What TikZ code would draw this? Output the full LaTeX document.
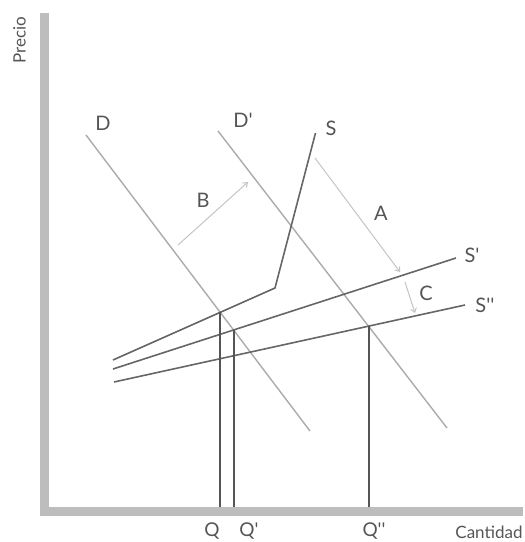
\documentclass[tikz,border=0pt]{standalone}
\usepackage{fontspec}
\setmainfont{Lato}
\usetikzlibrary{arrows.meta,calc}
\definecolor{axisgray}{HTML}{BDBDBD}
\definecolor{inkgray}{HTML}{555555}
\definecolor{demgray}{HTML}{ABABAB}
\definecolor{supgray}{HTML}{666666}
\definecolor{arrgray}{HTML}{C4C4C4}
\newcommand{\pr}{\textquotesingle}

\tikzset{
  demand/.style={draw=demgray, line width=1.4pt},
  supply/.style={draw=supgray, line width=1.6pt, line join=round},
  qline/.style={draw=inkgray, line width=2pt},
  shiftarr/.style={draw=arrgray, line width=1pt, -{Straight Barb[length=4pt,width=6pt]}},
  lbl/.style={text=inkgray, font=\fontsize{20}{20}\selectfont, inner sep=0pt},
  qlbl/.style={text=inkgray, font=\fontsize{19}{19}\selectfont, inner sep=0pt, anchor=north},
  axlbl/.style={text=inkgray, font=\fontsize{17}{17}\selectfont, inner sep=0pt}
}

\begin{document}
\begin{tikzpicture}[x=1pt, y=-1pt]
\useasboundingbox (0,0) rectangle (525,542);
\fill[axisgray] (40,13) rectangle (49,516);
\fill[axisgray] (40,507) rectangle (523,516);
\coordinate (base) at (0,507);

\coordinate (D0) at (86,135);
\coordinate (D1) at (310,431);
\coordinate (Dp0) at (218,131);
\coordinate (Dp1) at (447,428);
\coordinate (S0) at (113,360);
\coordinate (S1) at (275,288);
\coordinate (S2) at (315.5,133);
\coordinate (Sp0) at (113,369);
\coordinate (Sp1) at (456,258);
\coordinate (Spp0) at (114,382);
\coordinate (Spp1) at (465,305);

\draw[demand] (D0) -- (D1);
\draw[demand] (Dp0) -- (Dp1);
\draw[supply] (S0) -- (S1) -- (S2);
\draw[supply] (Sp0) -- (Sp1);
\draw[supply] (Spp0) -- (Spp1);

\coordinate (Q) at (intersection of D0--D1 and S0--S1);
\coordinate (Qp) at (intersection of D0--D1 and Sp0--Sp1);
\coordinate (Qpp) at (intersection of Dp0--Dp1 and Spp0--Spp1);
\draw[qline] (Q) -- (Q |- base);
\draw[qline] (Qp) -- (Qp |- base);
\draw[qline] (Qpp) -- (Qpp |- base);

\coordinate (A0) at (315,158);
\coordinate (A1) at (400,272);
\coordinate (B0) at (178,245);
\coordinate (B1) at (248,182);
\coordinate (C0) at (405,282);
\coordinate (C1) at (415,313);
\draw[shiftarr] (A0) -- (A1);
\draw[shiftarr] (B0) -- (B1);
\draw[shiftarr] (C0) -- (C1);

\node[lbl] (lD) at (103,123) {D};
\node[lbl] (lDp) at (243,120) {D\pr};
\node[lbl] (lS) at (331,128) {S};
\node[lbl] (lSp) at (472,255) {S\pr};
\node[lbl] (lSpp) at (485,305) {S\pr\pr};
\node[lbl] (lA) at (381,213) {A};
\node[lbl] (lB) at (203,200) {B};
\node[lbl] (lC) at (426,293) {C};
\node[qlbl] (lQ) at (212,523) {Q};
\node[qlbl] (lQp) at (249,523) {Q\pr};
\node[qlbl] (lQpp) at (374,523) {Q\pr\pr};
\node[axlbl, anchor=north] (lCant) at (489,526) {Cantidad};
\node[axlbl, rotate=90] (lPrecio) at (19.5,40) {Precio};
\end{tikzpicture}
\end{document}
